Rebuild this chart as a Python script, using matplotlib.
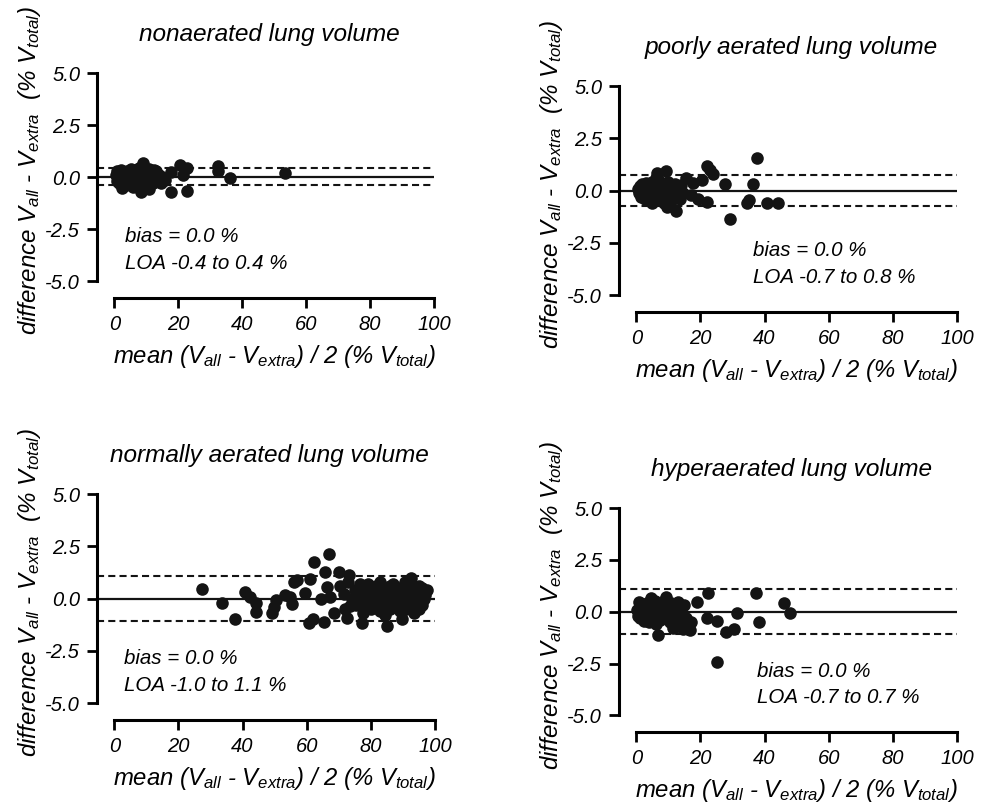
import matplotlib
matplotlib.use("Agg")
import matplotlib.pyplot as plt
from matplotlib.ticker import FormatStrFormatter

plt.rcParams["font.family"] = ["Liberation Sans", "DejaVu Sans"]
plt.rcParams["font.style"] = "italic"
plt.rcParams["axes.unicode_minus"] = False
plt.rcParams["mathtext.fontset"] = "custom"
plt.rcParams["mathtext.rm"] = "Liberation Sans:italic"
plt.rcParams["mathtext.it"] = "Liberation Sans:italic"
plt.rcParams["mathtext.default"] = "it"

# --- data ---
non_x = [0.5, 0.8, 1.0, 1.2, 1.5, 1.8, 2.0, 2.2, 2.5, 2.8, 3.0, 3.2, 3.5, 3.8, 4.0, 4.3, 4.5, 4.8,
         5.0, 5.3, 5.5, 5.8, 6.0, 6.3, 6.5, 6.8, 7.0, 7.3, 7.5, 7.8, 8.0, 8.3, 8.5, 8.8, 9.0, 9.1,
         9.3, 9.6, 9.9, 10.2, 10.5, 10.8, 11.0, 11.3, 11.6, 12.0, 12.4, 12.8, 13.2, 13.6, 14.0,
         14.5, 15.0, 15.8, 17.6, 17.9, 20.5, 21.6, 22.8, 22.9, 32.5, 32.5, 36.1, 53.5]
non_y = [0.1, -0.2, 0.3, 0.0, -0.3, 0.2, -0.1, 0.35, -0.5, 0.1, -0.25, 0.25, 0.0, -0.4, 0.3, -0.1,
         0.15, -0.35, 0.05, 0.4, -0.2, 0.2, -0.45, 0.1, 0.35, -0.15, 0.0, -0.3, 0.25, 0.45, -0.1,
         -0.5, -0.72, 0.2, 0.55, 0.7, -0.25, 0.05, 0.3, -0.4, 0.1, -0.55, 0.4, -0.15, 0.2, -0.3,
         0.35, -0.05, 0.3, -0.2, 0.1, -0.3, 0.0, -0.15, -0.73, 0.24, 0.58, 0.08, 0.45, -0.65,
         0.53, 0.29, -0.03, 0.18]

poor_x = [0.5, 0.8, 1.0, 1.3, 1.6, 1.9, 2.2, 2.5, 2.8, 3.0, 3.3, 3.6, 3.9, 4.2, 4.5, 4.8, 5.0,
          5.3, 5.6, 5.9, 6.2, 6.3, 6.6, 6.9, 7.2, 7.5, 7.8, 8.1, 8.4, 8.7, 9.0, 9.4, 9.6, 9.9,
          10.2, 10.5, 10.8, 11.2, 11.6, 12.0, 12.5, 13.0, 13.5, 14.0, 14.5, 15.6, 17.2, 17.7,
          19.3, 20.6, 21.9, 22.1, 22.9, 23.8, 27.6, 29.2, 34.4, 35.2, 36.5, 37.5, 40.8, 44.1]
poor_y = [0.1, -0.1, 0.2, 0.0, -0.3, 0.3, -0.15, 0.1, -0.4, 0.35, 0.0, -0.25, 0.2, -0.5, 0.1,
          -0.6, 0.4, -0.1, 0.25, -0.35, 0.6, 0.82, 0.0, -0.2, 0.45, -0.45, 0.15, -0.1, 0.3, -0.6,
          0.05, 0.95, -0.8, 0.4, -0.3, 0.2, -0.5, 0.1, -0.2, 0.3, -0.95, 0.0, -0.4, 0.25, -0.1,
          0.58, -0.23, 0.37, -0.39, 0.5, 1.18, -0.52, 0.98, 0.79, 0.31, -1.35, -0.6, -0.47, 0.31,
          1.58, -0.58, -0.58]

norm_x = [27.3, 33.5, 37.7, 40.8, 42.4, 44.3, 44.3, 49.2, 49.7, 50.5, 53.3, 54.9, 55.4, 56.0,
          57.0, 59.6, 61.0, 60.6, 62.0, 62.2, 66.9, 65.8, 64.5, 65.5, 66.4, 67.4, 68.4, 70.0,
          73.1, 72.6, 73.4, 77.1, 85.1, 89.8,
          70.5, 71.5, 72.0, 73.0, 74.0, 75.0, 75.5, 76.5, 77.0, 77.5, 78.0, 78.5, 79.0, 79.5,
          80.0, 80.5, 81.0, 81.5, 82.0, 82.5, 83.0, 83.5, 84.0, 84.5, 85.0, 85.5, 86.0, 86.5,
          87.0, 87.5, 88.0, 88.5, 89.0, 89.5, 90.0, 90.5, 91.0, 91.5, 92.0, 92.5, 93.0, 93.5,
          94.0, 94.5, 95.0, 95.5, 96.0, 96.5, 97.0, 97.5, 81.0, 83.0, 85.0, 87.0, 89.0, 91.0,
          93.0, 95.0, 80.0, 86.0, 88.0, 92.0, 84.0, 90.0, 96.0]
norm_y = [0.47, -0.23, -0.99, 0.31, 0.1, -0.23, -0.62, -0.67, -0.39, -0.06, 0.19, 0.06, -0.26,
          0.8, 0.88, 0.26, 0.96, -1.15, -0.99, 1.77, 2.13, 1.28, -0.02, -1.12, 0.55, 0.06, -0.67,
          1.28, 1.12, -0.91, -0.34, -1.15, -1.31, -0.99,
          0.6, 0.2, -0.5, 0.8, 0.0, 0.4, -0.3, 0.7, 0.1, -0.7, 0.3, -0.2, 0.7, 0.0, -0.5, 0.4,
          -0.1, 0.6, 0.2, -0.4, 0.8, -0.2, 0.3, -0.8, 0.5, 0.0, -0.5, 0.3, 0.7, -0.3, 0.1, 0.5,
          -0.6, 0.2, -0.2, 0.8, 0.0, 0.4, -0.4, 1.0, 0.1, -0.7, 0.3, -0.1, 0.6, 0.2, -0.3, 0.0,
          0.15, 0.4, 0.5, -0.6, -0.3, -0.1, 0.3, -0.5, 0.5, -0.5, 0.1, 0.6, -0.4, 0.3, 0.0, 0.1,
          0.5]

hyper_x = [0.3, 0.5, 0.7, 1.0, 1.3, 1.6, 1.9, 2.2, 2.5, 2.8, 3.1, 3.4, 3.7, 4.0, 4.3, 4.7, 5.0,
           5.3, 5.6, 5.9, 6.2, 6.7, 7.0, 7.3, 7.6, 8.0, 8.4, 8.8, 9.3, 9.6, 10.0, 10.4, 10.8,
           11.4, 11.8, 12.2, 12.6, 13.0, 13.5, 14.0, 14.5, 15.0, 15.5, 16.0, 16.6, 17.1, 19.0,
           22.3, 22.0, 25.2, 25.2, 28.0, 30.6, 31.4, 37.3, 38.3, 46.2, 48.0]
hyper_y = [0.1, -0.2, 0.45, 0.0, -0.3, 0.25, -0.1, 0.3, -0.45, 0.1, -0.2, 0.4, 0.0, -0.5, 0.2,
           0.68, -0.3, 0.1, -0.1, 0.5, -0.6, -1.1, 0.0, -0.4, 0.3, -0.2, 0.1, 0.55, 0.73, -0.3,
           0.2, -0.5, 0.4, -0.77, 0.0, 0.3, -0.2, 0.45, -0.6, 0.1, -0.85, 0.32, -0.3, -0.85, -0.9,
           -0.48, 0.48, 0.89, -0.29, -0.45, -2.42, -0.97, -0.81, -0.05, 0.89, -0.48, 0.44, -0.05]

titles = ["nonaerated lung volume", "poorly aerated lung volume",
          "normally aerated lung volume", "hyperaerated lung volume"]
loa_low = [-0.4, -0.72, -1.05, -1.08]
loa_high = [0.42, 0.75, 1.1, 1.08]
notes = ["bias = 0.0 %\nLOA -0.4 to 0.4 %", "bias = 0.0 %\nLOA -0.7 to 0.8 %",
         "bias = 0.0 %\nLOA -1.0 to 1.1 %", "bias = 0.0 %\nLOA -0.7 to 0.7 %"]
note_x = [3.4, 36.3, 3.1, 37.5]
xs = [non_x, poor_x, norm_x, hyper_x]
ys = [non_y, poor_y, norm_y, hyper_y]

# axes boxes in pixels: left, right(x=100), top(y=5), bottom(x-axis line)
W, H = 984, 805
boxes = [(97, 434, 73, 298), (619, 957, 86, 312), (97, 435, 494, 720), (619, 957, 508, 732)]

ylab = "difference $V_{all}$ - $V_{extra}$  (% $V_{total}$)"
xlab = "mean ($V_{all}$ - $V_{extra}$) / 2 (% $V_{total}$)"

fig = plt.figure(figsize=(W / 100, H / 100), dpi=100)

for i in range(4):
    l, r, t, b = boxes[i]
    ax = fig.add_axes([l / W, 1 - b / H, (r - l) / W, (b - t) / H])
    ax.set_xlim(-5.4, 100)
    ax.set_ylim(-5.8, 5.0)
    ax.scatter(xs[i], ys[i], s=82, color="#141414", zorder=3, clip_on=False, linewidths=0)
    ax.axhline(0, color="#141414", lw=1.6)
    ax.axhline(loa_low[i], color="#141414", lw=1.5, ls=(0, (3.4, 2.0)))
    ax.axhline(loa_high[i], color="#141414", lw=1.5, ls=(0, (3.4, 2.0)))

    for s in ["top", "right"]:
        ax.spines[s].set_visible(False)
    ax.spines["left"].set_bounds(-5, 5)
    ax.spines["bottom"].set_bounds(0, 100)
    ax.spines["left"].set_linewidth(2.2)
    ax.spines["bottom"].set_linewidth(2.2)
    ax.set_yticks([-5, -2.5, 0, 2.5, 5])
    ax.set_xticks([0, 20, 40, 60, 80, 100])
    ax.yaxis.set_major_formatter(FormatStrFormatter("%.1f"))
    ax.tick_params(direction="out", length=7, width=2, labelsize=14.5, pad=5)

    ax.text(0.51, 1.17, titles[i], transform=ax.transAxes, ha="center", va="center", fontsize=17.6)
    ax.text(note_x[i], -3.5, notes[i], ha="left", va="center", fontsize=14.8, linespacing=1.5)

    ax.set_ylabel(ylab, fontsize=17.4)
    ax.yaxis.set_label_coords(-0.16, 0.565)
    ax.set_xlabel(xlab, fontsize=17.2)
    ax.xaxis.set_label_coords(0.525, -0.2)

plt.savefig("out.png", dpi=100)
